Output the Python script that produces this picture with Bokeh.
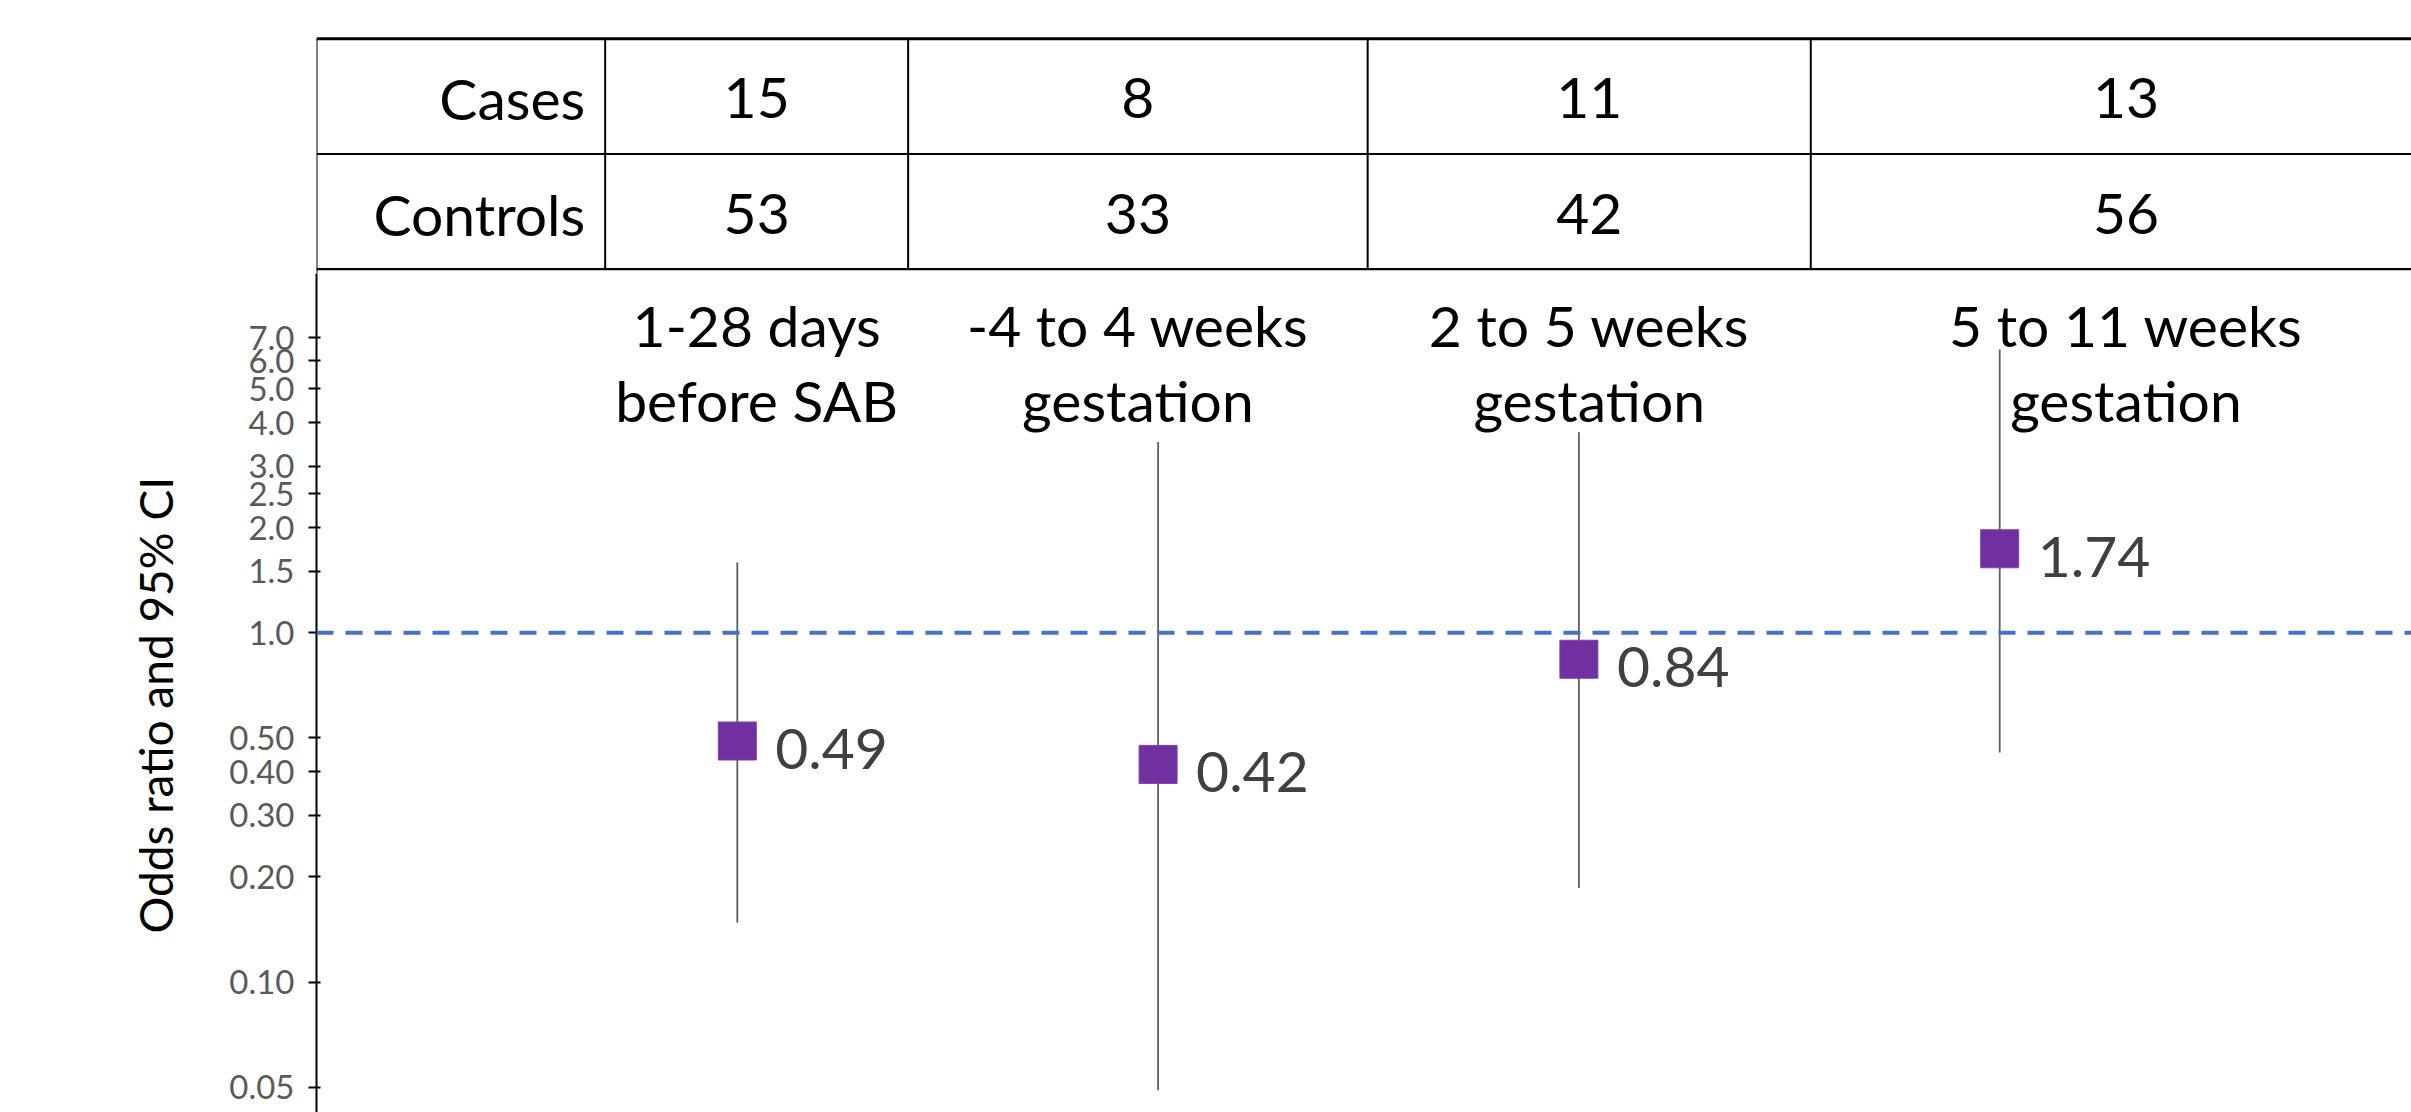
from bokeh.plotting import figure
from bokeh.layouts import column
from bokeh.models import Range1d, FixedTicker, Span, Title, ColumnDataSource, CustomJSTickFormatter
from bokeh.core.properties import value
from bokeh.embed import file_html
from bokeh.resources import INLINE

# ---------------- data ----------------
period_line1 = ["1-28 days", "-4 to 4 weeks", "2 to 5 weeks", "5 to 11 weeks"]
period_line2 = ["before SAB", "gestation", "gestation", "gestation"]
period_pos = [1, 2, 3, 4]
odds_ratio = [0.49, 0.42, 0.84, 1.74]
odds_labels = ["0.49", "0.42", "0.84", "1.74"]
ci_lower = [0.148, 0.049, 0.186, 0.454]
ci_upper = [1.59, 3.52, 3.75, 6.47]
row_labels = ["Cases", "Controls"]
cases = [15, 8, 11, 13]
controls = [53, 33, 42, 56]
tick_values = [0.05, 0.1, 0.2, 0.3, 0.4, 0.5, 1.0, 1.5, 2.0, 2.5, 3.0, 4.0, 5.0, 6.0, 7.0]
tick_labels = ["0.05", "0.10", "0.20", "0.30", "0.40", "0.50", "1.0", "1.5",
               "2.0", "2.5", "3.0", "4.0", "5.0", "6.0", "7.0"]
y_title = "Odds ratio and 95% CI"

# ---------------- layout constants ----------------
FONT = "Lato"
W = 2411
LEFT = 316
PX_UNIT = 420.8
X_END = (W - LEFT) / PX_UNIT
x_range = Range1d(0, X_END)
BFIX = -19  # baseline correction for 57px text

# table column edges (data units along x)
table_edges = [0, 0.686, 1.406, 2.498, 3.551, 5.049]
col_centers = [(table_edges[i] + table_edges[i + 1]) / 2 for i in range(1, 5)]

# --- table figure ---
H1 = 273
TOP1 = 20
ROW_PX = 115.2
frame1_h = H1 - TOP1
y0_from_top = 268.7 - TOP1
t_start = -(frame1_h - y0_from_top) / ROW_PX
t_end = 2 + (38.3 - TOP1) / ROW_PX

t = figure(width=W, height=H1, x_range=x_range, y_range=Range1d(t_start, t_end),
           output_backend="svg", toolbar_location=None,
           min_border_left=LEFT, min_border_right=0, min_border_top=TOP1, min_border_bottom=0,
           x_axis_location=None, y_axis_location=None, outline_line_color=None)
t.grid.visible = False

t.segment(x0=[0, 0, 0], y0=[0, 1, 2], x1=[table_edges[-1]] * 3, y1=[0, 1, 2],
          line_color="black", line_width=[2.2, 2.2, 3])
t.segment(x0=table_edges[:-1], y0=[0] * 5, x1=table_edges[:-1], y1=[2] * 5,
          line_color="black", line_width=2)
t.segment(x0=[0], y0=[t_start], x1=[0], y1=[0], line_color="black", line_width=2)

t.text(x=[table_edges[1]] * 2, y=[1.5, 0.5], text=row_labels, text_align="right",
       text_baseline="alphabetic", x_offset=-20, y_offset=21 + BFIX, text_font=value(FONT),
       text_font_size="57px", text_color="black")
t.text(x=col_centers, y=[1.5] * 4, text=[str(v) for v in cases], text_align="center",
       text_baseline="alphabetic", y_offset=21 + BFIX, text_font=value(FONT),
       text_font_size="57px", text_color="black")
t.text(x=col_centers, y=[0.5] * 4, text=[str(v) for v in controls], text_align="center",
       text_baseline="alphabetic", y_offset=21 + BFIX, text_font=value(FONT),
       text_font_size="57px", text_color="black")

# --- forest plot figure ---
H2 = 1112 - H1
Y1_PAGE = 632.3
PX_DEC = 349.3
top_page = H1
y_top = 10 ** ((Y1_PAGE - top_page) / PX_DEC)
y_bot = 10 ** ((Y1_PAGE - 1112) / PX_DEC)

p = figure(width=W, height=H2, x_range=x_range, y_range=Range1d(y_bot, y_top),
           y_axis_type="log", output_backend="svg", toolbar_location=None,
           min_border_left=LEFT, min_border_right=0, min_border_top=0, min_border_bottom=0,
           x_axis_location=None, outline_line_color=None)
p.grid.visible = False

ax = p.yaxis[0]
ax.ticker = FixedTicker(ticks=tick_values, minor_ticks=[])
ax.major_label_overrides = {v: l for v, l in zip(tick_values, tick_labels)}
ax.formatter = CustomJSTickFormatter(code="return tick < 0.999 ? tick.toFixed(2) : tick.toFixed(1);")
ax.axis_line_color = "black"
ax.axis_line_width = 2
ax.major_tick_line_color = "black"
ax.major_tick_line_width = 2
ax.major_tick_in = 4
ax.major_tick_out = 8
ax.minor_tick_line_color = None
ax.major_label_standoff = 14
ax.major_label_text_font = FONT
ax.major_label_text_font_size = "33px"
ax.major_label_text_color = "#595959"

p.add_layout(Title(text=y_title, align="left", offset=1112 - 933, standoff=88, text_font=FONT,
                   text_font_size="46px", text_font_style="normal", text_color="black"), "left")

p.add_layout(Span(location=1.0, dimension="width", line_color="#4472C4",
                  line_width=4, line_dash="17 12"))

src = ColumnDataSource(dict(x=period_pos, y=odds_ratio, lo=ci_lower, hi=ci_upper, lab=odds_labels))
p.segment(x0="x", y0="lo", x1="x", y1="hi", source=src, line_color="#5f5f5f", line_width=1.8)
p.scatter(x="x", y="y", source=src, marker="square", size=38, fill_color="#7030A0",
          line_color="#7a40a8", line_width=1)
p.text(x="x", y="y", text="lab", source=src, x_offset=38, y_offset=27 + BFIX, text_align="left",
       text_baseline="alphabetic", text_font=value(FONT), text_font_size="57px",
       text_color="#404040")

p.text(x=col_centers, y=[y_top] * 4, text=period_line1, text_align="center",
       text_baseline="alphabetic", y_offset=343 - top_page + BFIX, text_font=value(FONT),
       text_font_size="57px", text_color="black")
p.text(x=col_centers, y=[y_top] * 4, text=period_line2, text_align="center",
       text_baseline="alphabetic", y_offset=418 - top_page + BFIX, text_font=value(FONT),
       text_font_size="57px", text_color="black")

layout = column(t, p, spacing=0)
open("out.html", "w").write(file_html(layout, INLINE))
